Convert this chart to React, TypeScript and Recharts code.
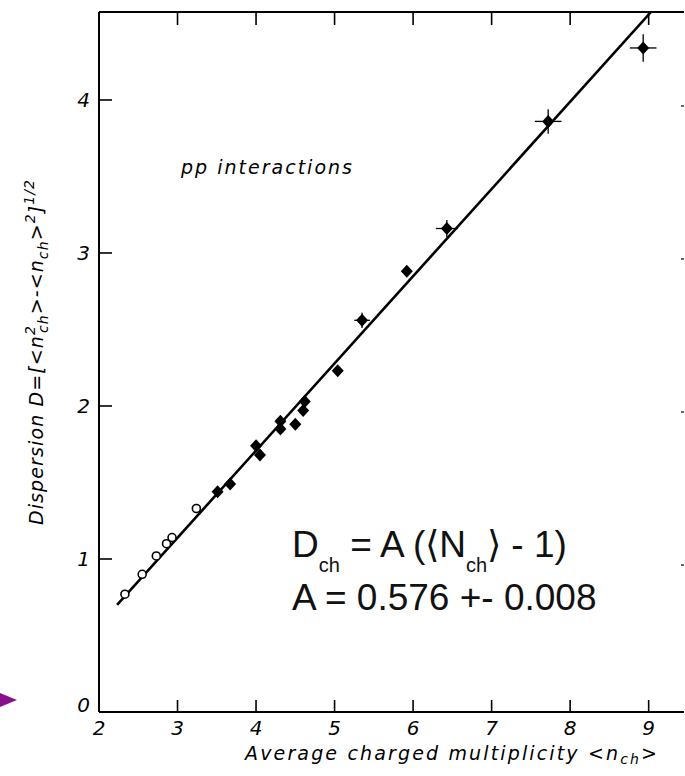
import React from 'react';
import { ScatterChart, Scatter, XAxis, YAxis, ErrorBar, Customized } from 'recharts';

// open circles (low energy points)
const openX = [2.33, 2.55, 2.73, 2.86, 2.93, 3.24];
const openY = [0.77, 0.9, 1.02, 1.1, 1.14, 1.33];
const openEx = [0.02, 0.02, 0.02, 0.02, 0.02, 0.04];
const openEy = [0.02, 0.02, 0.02, 0.02, 0.02, 0.03];

// filled diamonds
const fullX = [3.51, 3.67, 4.0, 4.05, 4.31, 4.31, 4.5, 4.6, 4.62, 5.04, 5.35, 5.92, 6.43, 7.72, 8.93];
const fullY = [1.44, 1.49, 1.74, 1.68, 1.9, 1.85, 1.88, 1.97, 2.03, 2.23, 2.56, 2.88, 3.16, 3.86, 4.34];
const fullEx = [0.04, 0.04, 0.04, 0.04, 0.05, 0.05, 0.04, 0.05, 0.05, 0.06, 0.1, 0.05, 0.14, 0.17, 0.17];
const fullEy = [0.02, 0.02, 0.02, 0.02, 0.03, 0.03, 0.02, 0.03, 0.03, 0.03, 0.05, 0.03, 0.055, 0.08, 0.09];

// fitted straight line, end points
const fitX = [2.23, 9.03];
const fitY = [0.7, 4.575];

const xTicks = [2, 3, 4, 5, 6, 7, 8, 9];
const yTicks = [0, 1, 2, 3, 4];

const openData = openX.map((x, i) => ({ x, y: openY[i], ex: openEx[i], ey: openEy[i] }));
const fullData = fullX.map((x, i) => ({ x, y: fullY[i], ex: fullEx[i], ey: fullEy[i] }));
const fitData = fitX.map((x, i) => ({ x, y: fitY[i] }));

const tickFont = { fontFamily: 'DejaVu Sans', fontStyle: 'italic', fontSize: 20, fill: '#000' } as const;

const BottomTick = (p: any) => (
  <g>
    <line x1={p.x} x2={p.x} y1={p.y} y2={p.y - 12} stroke="#000" strokeWidth={1.6} />
    <text x={p.x} y={p.y + 23} textAnchor="middle" {...tickFont}>{p.payload.value}</text>
  </g>
);

const TopTick = (p: any) => (
  <line x1={p.x} x2={p.x} y1={p.y} y2={p.y + 13} stroke="#000" strokeWidth={1.6} />
);

const LeftTick = (p: any) => (
  <g>
    <line x1={p.x} x2={p.x + 13} y1={p.y} y2={p.y} stroke="#000" strokeWidth={1.6} />
    <text x={p.x - 9} y={p.y + 7 - (p.payload.value === 0 ? 7 : 0)} textAnchor="end" {...tickFont}>{p.payload.value}</text>
  </g>
);

const RightTick = (p: any) => (
  <line x1={p.x} x2={p.x - 3} y1={p.y + 6} y2={p.y + 6} stroke="#000" strokeWidth={1.2} />
);

const Diamond = (p: any) => (
  <polygon points={`${p.cx},${p.cy - 6.5} ${p.cx + 6},${p.cy} ${p.cx},${p.cy + 6.5} ${p.cx - 6},${p.cy}`} fill="#000" />
);

const OpenCircle = (p: any) => <circle cx={p.cx} cy={p.cy} r={4} fill="#fff" stroke="#000" strokeWidth={1.6} />;

const sub = { fontSize: 14 };

const Texts = () => (
  <g>
    <text x={181} y={174} textLength={171} lengthAdjust="spacing" fontFamily="DejaVu Sans" fontStyle="italic" fontSize={19}>
      pp interactions
    </text>
    <text x={245} y={760} textLength={412} lengthAdjust="spacing" fontFamily="DejaVu Sans" fontStyle="italic" fontSize={19}>
      Average  charged multiplicity  {'<'}n<tspan dy={4} style={sub}>ch</tspan><tspan dy={-4}>{'>'}</tspan>
    </text>
    <text x={43} y={525} transform="rotate(-90 43 525)" textLength={345} lengthAdjust="spacing" fontFamily="DejaVu Sans" fontStyle="italic" fontSize={19}>
      Dispersion  D=[{'<'}n<tspan dy={-8} style={sub}>2</tspan><tspan dx={-8} dy={13} style={sub}>ch</tspan>
      <tspan dy={-5}>{'>-<'}n</tspan><tspan dy={5} style={sub}>ch</tspan><tspan dy={-5}>{'>'}</tspan>
      <tspan dy={-8} style={sub}>2</tspan><tspan dy={8}>]</tspan><tspan dy={-9} style={sub}>1/2</tspan>
    </text>
    <text x={292} y={557} fontFamily="Liberation Sans" fontSize={37} fill="#111">
      D<tspan dy={15} fontSize={20}>ch</tspan><tspan dy={-15}> = A (⟨N</tspan><tspan dy={15} fontSize={20}>ch</tspan>
      <tspan dy={-15}>⟩ - 1)</tspan>
    </text>
    <text x={292} y={610} fontFamily="Liberation Sans" fontSize={37} fill="#111">
      A = 0.576 +- 0.008
    </text>
  </g>
);

export default function App() {
  return (
    <div style={{ position: 'absolute', left: 0, top: 0, width: 685, height: 776, background: '#fff' }}>
      <ScatterChart width={685} height={776} margin={{ top: 11, right: 0, bottom: 0, left: 0 }}>
        <XAxis
          xAxisId={0}
          type="number"
          dataKey="x"
          domain={[2, 9.45]}
          ticks={xTicks}
          allowDataOverflow
          height={64}
          tickSize={0}
          tickMargin={0}
          tickLine={false}
          axisLine={{ stroke: '#000', strokeWidth: 2 }}
          tick={<BottomTick />}
        />
        <XAxis
          xAxisId="top"
          orientation="top"
          type="number"
          dataKey="x"
          domain={[2, 9.45]}
          ticks={xTicks}
          allowDataOverflow
          height={1}
          tickSize={0}
          tickMargin={0}
          tickLine={false}
          axisLine={{ stroke: '#000', strokeWidth: 2 }}
          tick={<TopTick />}
        />
        <YAxis
          yAxisId={0}
          type="number"
          dataKey="y"
          domain={[0, 4.575]}
          ticks={yTicks}
          allowDataOverflow
          width={99}
          tickSize={0}
          tickMargin={0}
          tickLine={false}
          axisLine={{ stroke: '#000', strokeWidth: 2 }}
          tick={<LeftTick />}
        />
        <YAxis
          yAxisId="right"
          orientation="right"
          type="number"
          dataKey="y"
          domain={[0, 4.575]}
          ticks={yTicks.slice(1)}
          allowDataOverflow
          width={1}
          tickSize={0}
          tickMargin={0}
          tickLine={false}
          axisLine={false}
          tick={<RightTick />}
        />
        <Scatter data={fitData} line={{ stroke: '#000', strokeWidth: 2.6 }} shape={() => null} isAnimationActive={false} />
        <Scatter data={openData} shape={<OpenCircle />} isAnimationActive={false}>
          <ErrorBar dataKey="ex" direction="x" width={0} stroke="#000" strokeWidth={1.3} />
          <ErrorBar dataKey="ey" direction="y" width={0} stroke="#000" strokeWidth={1.3} />
        </Scatter>
        <Scatter data={fullData} shape={<Diamond />} isAnimationActive={false}>
          <ErrorBar dataKey="ex" direction="x" width={0} stroke="#000" strokeWidth={1.3} />
          <ErrorBar dataKey="ey" direction="y" width={0} stroke="#000" strokeWidth={1.3} />
        </Scatter>
        <Customized component={Texts} />
      </ScatterChart>
      <div
        style={{
          position: 'absolute',
          left: 0,
          top: 693,
          width: 0,
          height: 0,
          borderTop: '7px solid transparent',
          borderBottom: '7px solid transparent',
          borderLeft: '17px solid #8a0f8a',
        }}
      />
    </div>
  );
}
